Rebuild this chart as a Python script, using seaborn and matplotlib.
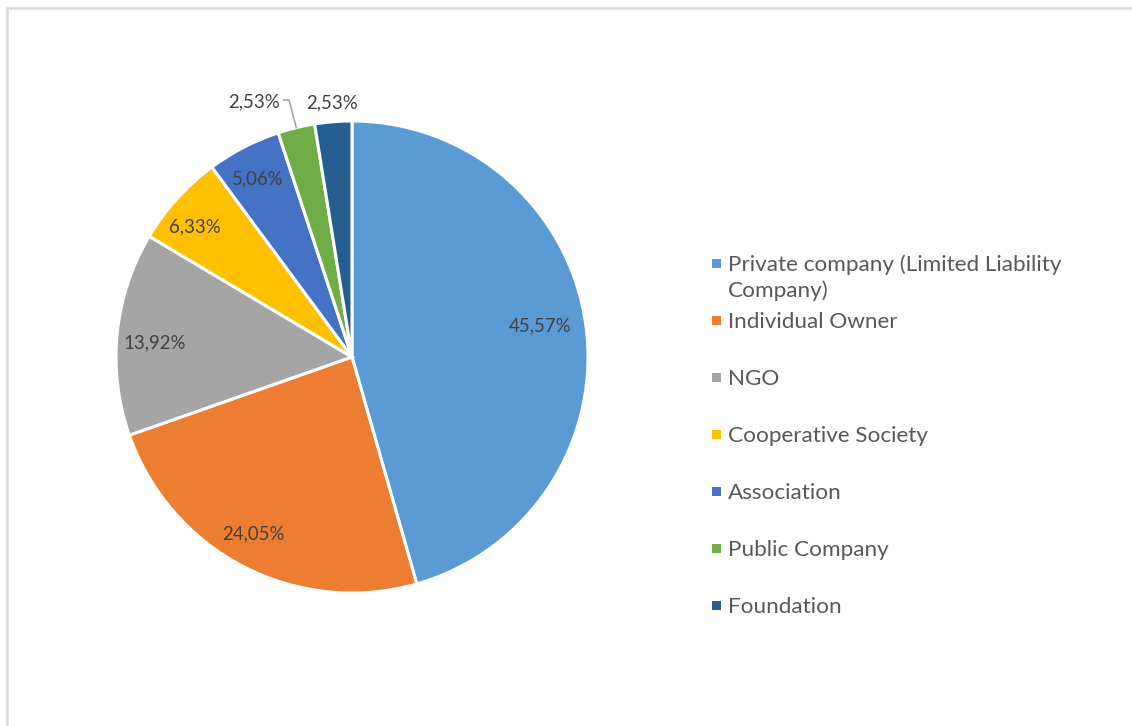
import numpy as np
import matplotlib
matplotlib.use("Agg")
import matplotlib.pyplot as plt
from matplotlib.patches import Rectangle
import seaborn as sns

# Ownership structure shares (percent)
categories = [
    "Private company (Limited Liability\nCompany)",
    "Individual Owner",
    "NGO",
    "Cooperative Society",
    "Association",
    "Public Company",
    "Foundation",
]
shares = [45.57, 24.05, 13.92, 6.33, 5.06, 2.53, 2.53]
share_labels = ["45,57%", "24,05%", "13,92%", "6,33%", "5,06%", "2,53%", "2,53%"]
colors = ["#5B9BD5", "#ED7D31", "#A5A5A5", "#FFC000", "#4472C4", "#70AD47", "#255E91"]

sns.set_theme(style="white")
plt.rcParams["font.family"] = ["Lato", "DejaVu Sans"]

W, H = 1132, 726
fig = plt.figure(figsize=(W / 100, H / 100), dpi=100)
fig.patch.set_facecolor("white")

# pie centre and radius in pixels
cx, cy, R = 352, 357, 236
ax = fig.add_axes([(cx - R) / W, (H - cy - R) / H, 2 * R / W, 2 * R / H])

wedges, _ = ax.pie(
    shares,
    colors=colors,
    startangle=90,
    counterclock=False,
    wedgeprops=dict(edgecolor="white", linewidth=2.2),
)
ax.set_xlim(-1, 1)
ax.set_ylim(-1, 1)
ax.set_aspect("equal")
ax.axis("off")

label_color = "#404040"
label_size = 13.4
# radius and small angular nudge (degrees) for the in-slice labels
inside_r = [0.81, 0.85, 0.84, 0.87, 0.86]
nudge = [2.0, -2.0, 1.0, 2.0, 0.3]
for w, txt, r, dn in zip(wedges[:5], share_labels[:5], inside_r, nudge):
    mid = np.deg2rad((w.theta1 + w.theta2) / 2 + dn)
    ax.text(r * np.cos(mid), r * np.sin(mid) - 0.008, txt, ha="center", va="center",
            fontsize=label_size, color=label_color)

# Public Company: label to the upper left with an elbow leader line
w = wedges[5]
mid = np.deg2rad((w.theta1 + w.theta2) / 2)
px, py = np.cos(mid), np.sin(mid)
ty = 1.089
ax.plot([-0.29, -0.267, px], [ty, ty, py], color="#a6a6a6", lw=1.2,
        clip_on=False, solid_joinstyle="miter")
ax.text(-0.305, ty - 0.008, share_labels[5], ha="right", va="center",
        fontsize=label_size, color=label_color)

# Foundation: label just outside its wedge
w = wedges[6]
mid = np.deg2rad((w.theta1 + w.theta2) / 2)
ax.text(1.09 * np.cos(mid), 1.09 * np.sin(mid) - 0.008, share_labels[6], ha="center",
        va="center", fontsize=label_size, color=label_color)

# Legend drawn as a fixed-slot list
legend_color = "#595959"
legend_size = 16.2
slot_y = [263, 320, 377, 434, 491, 548, 605]
for col, name, y in zip(colors, categories, slot_y):
    fig.patches.append(Rectangle((712 / W, (H - y - 4.5) / H), 9 / W, 9 / H,
                                 transform=fig.transFigure, facecolor=col,
                                 edgecolor="none"))
    if "\n" in name:
        fig.text(728 / W, (H - y + 9) / H, name, ha="left", va="top",
                 fontsize=legend_size, color=legend_color, linespacing=1.36)
    else:
        fig.text(728 / W, (H - y - 2) / H, name, ha="left", va="center",
                 fontsize=legend_size, color=legend_color)

# chart area frame (top and left edges)
fig.add_artist(plt.Line2D([7 / W, 1.0], [(H - 7.5) / H] * 2, transform=fig.transFigure,
                          color="#d9d9d9", lw=1.8))
fig.add_artist(plt.Line2D([7 / W] * 2, [0, (H - 7.5) / H], transform=fig.transFigure,
                          color="#d9d9d9", lw=1.8))

fig.savefig("out.png", dpi=100, facecolor="white")
